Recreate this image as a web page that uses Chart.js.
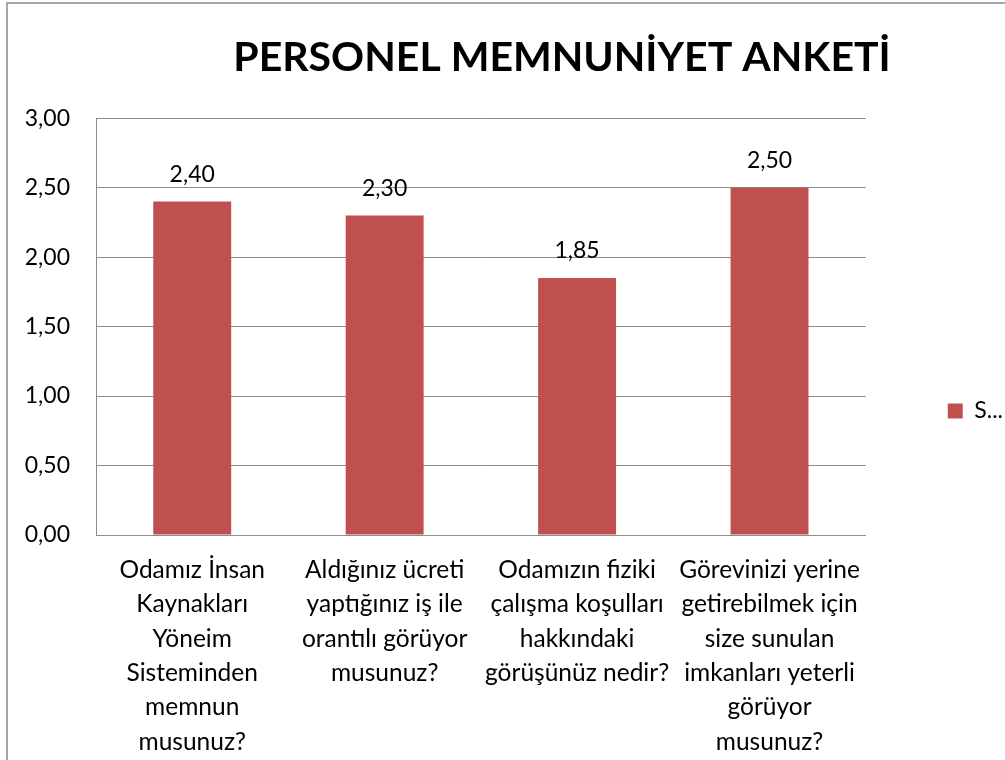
<!DOCTYPE html>
<html>
<head>
<meta charset="utf-8">
<script src="https://cdn.jsdelivr.net/npm/chart.js@4.4.1/dist/chart.umd.min.js"></script>
<style>
  html, body { margin: 0; padding: 0; background: #fff; overflow: hidden; width: 1005px; height: 760px; }
  #frame { position: absolute; left: 6px; top: 2px; width: 1200px; height: 900px; border-left: 2px solid #a6a6a6; border-top: 2px solid #a6a6a6; }
  #wrap { position: absolute; left: 7px; top: 3px; width: 1110px; height: 760px; }
</style>
</head>
<body>
<div id="frame"></div>
<div id="wrap"><canvas id="chart" width="1110" height="760"></canvas></div>
<script>
const TITLE = 'PERSONEL MEMNUNİYET ANKETİ';
const SERIES_NAME = 'S...';
const CATEGORIES = [
    ['Odamız İnsan', 'Kaynakları', 'Yöneim', 'Sisteminden', 'memnun', 'musunuz?'],
    ['Aldığınız ücreti', 'yaptığınız iş ile', 'orantılı görüyor', 'musunuz?'],
    ['Odamızın fiziki', 'çalışma koşulları', 'hakkındaki', 'görüşünüz nedir?'],
    ['Görevinizi yerine', 'getirebilmek için', 'size sunulan', 'imkanları yeterli', 'görüyor', 'musunuz?'],
];
const VALUES = [2.40, 2.30, 1.85, 2.50];
const Y_TICKS = [0, 0.5, 1, 1.5, 2, 2.5, 3];

const BAR_COLOR = '#C0504D';
const GRID_COLOR = '#8c8c8c';

const fmt = v => v.toFixed(2).replace('.', ',');

Chart.defaults.font.family = 'Lato';
Chart.defaults.color = '#000';

// value labels above the bars
const barLabels = {
    id: 'barLabels',
    afterDatasetsDraw(chart) {
        const ctx = chart.ctx;
        ctx.save();
        ctx.font = '23px Lato';
        ctx.fillStyle = '#000';
        ctx.textAlign = 'center';
        ctx.textBaseline = 'middle';
        chart.getDatasetMeta(0).data.forEach((bar, i) => {
            ctx.fillText(fmt(VALUES[i]), bar.x, bar.y - 27);
        });
        ctx.restore();
    }
};

// the original title is centred on a frame wider than the picture,
// and its legend sits a bit lower than chart.js would put it
const boxTweaks = {
    id: 'boxTweaks',
    afterLayout(chart) {
        const t = chart.titleBlock;
        t.right = 2 * 555 - t.left;
        chart.legend.top += 31;
        chart.legend.bottom += 31;
    }
};

new Chart(document.getElementById('chart'), {
    type: 'bar',
    data: {
        labels: CATEGORIES,
        datasets: [{
            label: SERIES_NAME,
            data: VALUES,
            backgroundColor: BAR_COLOR,
            borderWidth: 0,
            barPercentage: 0.405,
            categoryPercentage: 1.0,
        }]
    },
    options: {
        responsive: false,
        animation: false,
        devicePixelRatio: 1,
        layout: { padding: { left: 0, right: 104, top: 0, bottom: 6 } },
        scales: {
            x: {
                grid: { display: false, drawTicks: false },
                border: { display: true, color: GRID_COLOR, width: 1 },
                ticks: {
                    autoSkip: false,
                    maxRotation: 0,
                    minRotation: 0,
                    padding: 18,
                    font: { size: 24.5, lineHeight: 1.4 },
                    color: '#000',
                },
                afterFit(scale) { scale.height = 222; },
            },
            y: {
                min: 0,
                max: 3,
                afterBuildTicks(scale) { scale.ticks = Y_TICKS.map(v => ({ value: v })); },
                grid: { color: GRID_COLOR, drawTicks: false, lineWidth: 1 },
                border: { display: true, color: GRID_COLOR, width: 1 },
                ticks: {
                    padding: 26,
                    font: { size: 23 },
                    color: '#000',
                    callback: v => fmt(v),
                },
                afterFit(scale) { scale.width = 89; },
            },
        },
        plugins: {
            title: {
                display: true,
                text: TITLE,
                color: '#000',
                font: { size: 41, weight: 'bold', lineHeight: 1.2 },
                padding: { top: 30, bottom: 36 },
            },
            legend: {
                position: 'right',
                align: 'center',
                labels: {
                    boxWidth: 15,
                    boxHeight: 15,
                    padding: 82,
                    color: '#000',
                    font: { size: 23 },
                },
            },
            tooltip: { enabled: false },
        },
    },
    plugins: [barLabels, boxTweaks],
});
</script>
</body>
</html>
